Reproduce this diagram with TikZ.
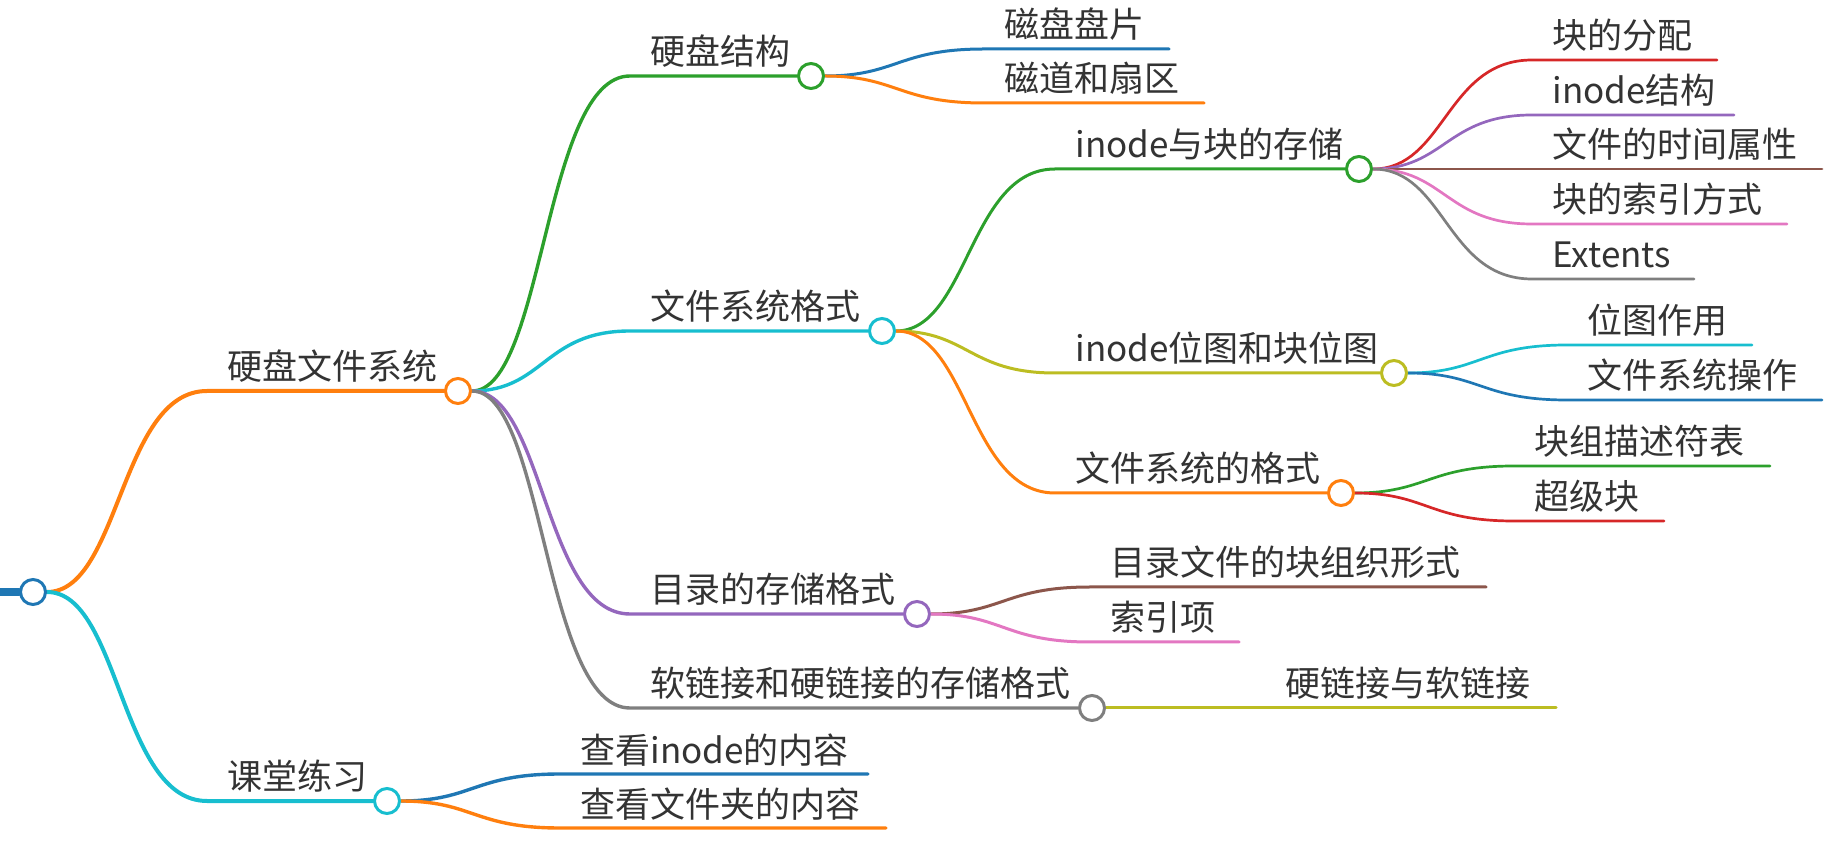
\documentclass[tikz,border=0pt]{standalone}
\usepackage{fontspec}
\setmainfont{Noto Sans CJK SC}
\usetikzlibrary{backgrounds}
% d3 category colours
\definecolor{cblue}{HTML}{1F77B4}
\definecolor{corange}{HTML}{FF7F0E}
\definecolor{cgreen}{HTML}{2CA02C}
\definecolor{cred}{HTML}{D62728}
\definecolor{cpurple}{HTML}{9467BD}
\definecolor{cbrown}{HTML}{8C564B}
\definecolor{cpink}{HTML}{E377C2}
\definecolor{cgray}{HTML}{7F7F7F}
\definecolor{colive}{HTML}{BCBD22}
\definecolor{ccyan}{HTML}{17BECF}
\tikzset{
    % Topic text, sits on its underline
    topic/.style={
        anchor=base west,
        inner sep=0pt,
        text=black!80,
        font=\fontsize{17.5pt}{21pt}\selectfont,
    },
    % Open circle at the end of a branch
    knob/.style={
        circle,
        draw=#1,
        fill=white,
        line width=1.5pt,
        minimum size=12.5pt,
        inner sep=0pt,
    },
    % Branch line
    link/.style={
        draw=#1,
        line cap=round,
    },
    lvA/.style={line width=2pt},
    lvB/.style={line width=1.7pt},
    lvC/.style={line width=1.5pt},
    lvD/.style={line width=1.35pt},
}

\begin{document}
\begin{tikzpicture}[x=0.5pt, y=-0.5pt]
    \useasboundingbox (0,0) rectangle (1847,854);

    % Root
    \coordinate (R-in) at (0,592);
    \node[knob=cblue] (R) at (33,592) {};

    % Level 1
    \coordinate (hd-s) at (207,391);
    \node[knob=corange] (hd) at (458,391) {};
    \node[topic] (hd-t) at (227,380) {硬盘文件系统};
    \coordinate (kt-s) at (207,801);
    \node[knob=ccyan] (kt) at (387,801) {};
    \node[topic] (kt-t) at (227,790) {课堂练习};

    % Level 2
    \coordinate (jg-s) at (630,76);
    \node[knob=cgreen] (jg) at (811,76) {};
    \node[topic] (jg-t) at (650,65) {硬盘结构};
    \coordinate (gs-s) at (630,331);
    \node[knob=ccyan] (gs) at (882,331) {};
    \node[topic] (gs-t) at (650,320) {文件系统格式};
    \coordinate (ml-s) at (630,614);
    \node[knob=cpurple] (ml) at (917,614) {};
    \node[topic] (ml-t) at (650,603) {目录的存储格式};
    \coordinate (lj-s) at (630,708);
    \node[knob=cgray] (lj) at (1092,708) {};
    \node[topic] (lj-t) at (650,697) {软链接和硬链接的存储格式};
    \coordinate (ck1-s) at (560,774);
    \coordinate (ck1-e) at (868,774);
    \node[topic] (ck1-t) at (580,763) {查看inode的内容};
    \coordinate (ck2-s) at (560,828);
    \coordinate (ck2-e) at (886,828);
    \node[topic] (ck2-t) at (580,817) {查看文件夹的内容};

    % Level 3
    \coordinate (pp-s) at (984,49);
    \coordinate (pp-e) at (1169,49);
    \node[topic] (pp-t) at (1004,38) {磁盘盘片};
    \coordinate (sq-s) at (984,103);
    \coordinate (sq-e) at (1204,103);
    \node[topic] (sq-t) at (1004,92) {磁道和扇区};
    \coordinate (kc-s) at (1055,169);
    \node[knob=cgreen] (kc) at (1359,169) {};
    \node[topic] (kc-t) at (1075,158) {inode与块的存储};
    \coordinate (wt-s) at (1055,373);
    \node[knob=colive] (wt) at (1394,373) {};
    \node[topic] (wt-t) at (1075,362) {inode位图和块位图};
    \coordinate (gf-s) at (1055,493);
    \node[knob=corange] (gf) at (1341,493) {};
    \node[topic] (gf-t) at (1075,482) {文件系统的格式};
    \coordinate (zz-s) at (1090,587);
    \coordinate (zz-e) at (1486,587);
    \node[topic] (zz-t) at (1110,576) {目录文件的块组织形式};
    \coordinate (sy-s) at (1090,642);
    \coordinate (sy-e) at (1239,642);
    \node[topic] (sy-t) at (1110,631) {索引项};
    \coordinate (yr-s) at (1265,708);
    \coordinate (yr-e) at (1556,708);
    \node[topic] (yr-t) at (1285,697) {硬链接与软链接};

    % Level 4
    \coordinate (fp-s) at (1532,60);
    \coordinate (fp-e) at (1717,60);
    \node[topic] (fp-t) at (1552,49) {块的分配};
    \coordinate (ij-s) at (1532,115);
    \coordinate (ij-e) at (1734,115);
    \node[topic] (ij-t) at (1552,104) {inode结构};
    \coordinate (sx-s) at (1532,169);
    \coordinate (sx-e) at (1822,169);
    \node[topic] (sx-t) at (1552,158) {文件的时间属性};
    \coordinate (fs-s) at (1532,224);
    \coordinate (fs-e) at (1787,224);
    \node[topic] (fs-t) at (1552,213) {块的索引方式};
    \coordinate (ex-s) at (1532,279);
    \coordinate (ex-e) at (1694,279);
    \node[topic] (ex-t) at (1552,268) {Extents};
    \coordinate (zy-s) at (1567,345);
    \coordinate (zy-e) at (1752,345);
    \node[topic] (zy-t) at (1587,334) {位图作用};
    \coordinate (cz-s) at (1567,400);
    \coordinate (cz-e) at (1822,400);
    \node[topic] (cz-t) at (1587,389) {文件系统操作};
    \coordinate (ms-s) at (1514,466);
    \coordinate (ms-e) at (1770,466);
    \node[topic] (ms-t) at (1534,455) {块组描述符表};
    \coordinate (cj-s) at (1514,521);
    \coordinate (cj-e) at (1664,521);
    \node[topic] (cj-t) at (1534,510) {超级块};

    % Branches
    \begin{scope}[on background layer]
        \draw[link=cblue, line width=4pt] (R-in) -- (R);

        \draw[link=corange, lvA] (R) .. controls +(87,0) and +(-87,0) .. (hd-s) -- (hd);
        \draw[link=ccyan, lvA] (R) .. controls +(87,0) and +(-87,0) .. (kt-s) -- (kt);

        \draw[link=cgreen, lvB] (hd) .. controls +(86,0) and +(-86,0) .. (jg-s) -- (jg);
        \draw[link=ccyan, lvB] (hd) .. controls +(86,0) and +(-86,0) .. (gs-s) -- (gs);
        \draw[link=cpurple, lvB] (hd) .. controls +(86,0) and +(-86,0) .. (ml-s) -- (ml);
        \draw[link=cgray, lvB] (hd) .. controls +(86,0) and +(-86,0) .. (lj-s) -- (lj);
        \draw[link=cblue, lvB] (kt) .. controls +(86,0) and +(-86,0) .. (ck1-s) -- (ck1-e);
        \draw[link=corange, lvB] (kt) .. controls +(86,0) and +(-86,0) .. (ck2-s) -- (ck2-e);

        \draw[link=cblue, lvC] (jg) .. controls +(86,0) and +(-86,0) .. (pp-s) -- (pp-e);
        \draw[link=corange, lvC] (jg) .. controls +(86,0) and +(-86,0) .. (sq-s) -- (sq-e);
        \draw[link=cgreen, lvC] (gs) .. controls +(86,0) and +(-86,0) .. (kc-s) -- (kc);
        \draw[link=colive, lvC] (gs) .. controls +(86,0) and +(-86,0) .. (wt-s) -- (wt);
        \draw[link=corange, lvC] (gs) .. controls +(86,0) and +(-86,0) .. (gf-s) -- (gf);
        \draw[link=cbrown, lvC] (ml) .. controls +(86,0) and +(-86,0) .. (zz-s) -- (zz-e);
        \draw[link=cpink, lvC] (ml) .. controls +(86,0) and +(-86,0) .. (sy-s) -- (sy-e);
        \draw[link=colive, lvC] (lj) -- (yr-s) -- (yr-e);

        \draw[link=cred, lvD] (kc) .. controls +(86,0) and +(-86,0) .. (fp-s) -- (fp-e);
        \draw[link=cpurple, lvD] (kc) .. controls +(86,0) and +(-86,0) .. (ij-s) -- (ij-e);
        \draw[link=cbrown, lvD] (kc) -- (sx-s) -- (sx-e);
        \draw[link=cpink, lvD] (kc) .. controls +(86,0) and +(-86,0) .. (fs-s) -- (fs-e);
        \draw[link=cgray, lvD] (kc) .. controls +(86,0) and +(-86,0) .. (ex-s) -- (ex-e);
        \draw[link=ccyan, lvD] (wt) .. controls +(86,0) and +(-86,0) .. (zy-s) -- (zy-e);
        \draw[link=cblue, lvD] (wt) .. controls +(86,0) and +(-86,0) .. (cz-s) -- (cz-e);
        \draw[link=cgreen, lvD] (gf) .. controls +(86,0) and +(-86,0) .. (ms-s) -- (ms-e);
        \draw[link=cred, lvD] (gf) .. controls +(86,0) and +(-86,0) .. (cj-s) -- (cj-e);
    \end{scope}
\end{tikzpicture}
\end{document}
